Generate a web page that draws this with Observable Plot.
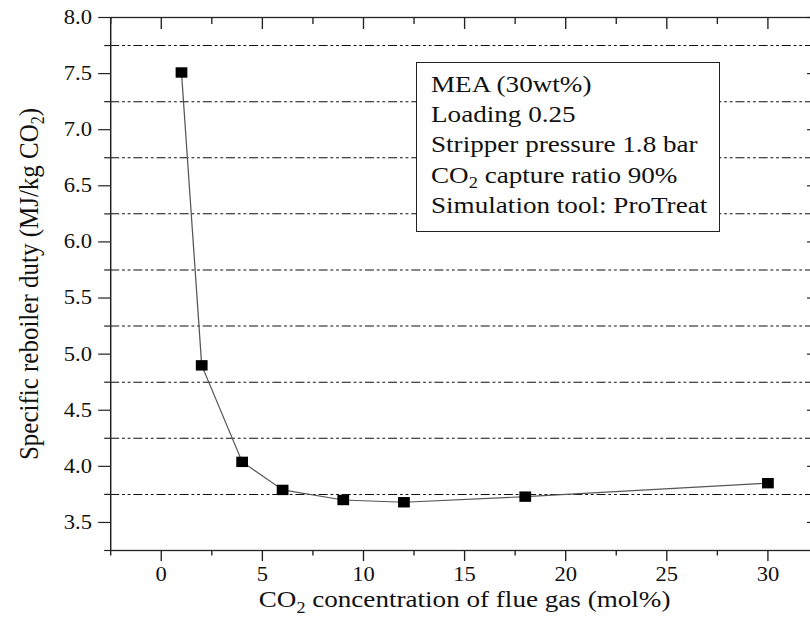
<!DOCTYPE html>
<html>
<head>
<meta charset="utf-8">
<script src="https://cdn.jsdelivr.net/npm/d3@7"></script>
<script src="https://cdn.jsdelivr.net/npm/@observablehq/plot@0.6"></script>
<style>
  html, body { margin: 0; padding: 0; background: white; overflow: hidden; }
  #wrap { position: relative; width: 810px; height: 619px; overflow: hidden; }
  #legend {
    position: absolute; left: 415.7px; top: 62.3px; width: 304.3px; height: 169.4px;
    box-sizing: border-box; border: 1.4px solid #222; background: white;
    padding: 5.5px 0 0 14px; font-family: "Liberation Serif", "Times New Roman", serif; font-size: 24px;
    line-height: 30.3px; color: #111; white-space: nowrap;
  }
  #legend .inner { transform: scaleX(1.13); transform-origin: left top; }
  #legend sub { font-size: 0.68em; line-height: 0; vertical-align: -0.28em; }
</style>
</head>
<body>
<div id="wrap"></div>
<script>
// Data
const co2Conc = [1, 2, 4, 6, 9, 12, 18, 30];                          // mol%
const reboilerDuty = [7.51, 4.90, 4.04, 3.79, 3.70, 3.68, 3.73, 3.85]; // MJ/kg CO2

// Tick values
const xMajorTicks = [0, 5, 10, 15, 20, 25, 30];
const xMinorTicks = [-2.5, 2.5, 7.5, 12.5, 17.5, 22.5, 27.5, 32.5];
const yMajorTicks = [3.5, 4.0, 4.5, 5.0, 5.5, 6.0, 6.5, 7.0, 7.5, 8.0];
const yMinorTicks = [3.25, 3.75, 4.25, 4.75, 5.25, 5.75, 6.25, 6.75, 7.25, 7.75];
const yGridLines = [3.75, 4.25, 4.75, 5.25, 5.75, 6.25, 6.75, 7.25, 7.75];

const yLabel = "Specific reboiler duty (MJ/kg CO2)";
const xLabel = "CO2 concentration of flue gas (mol%)";
const legendLines = ["MEA (30wt%)", "Loading 0.25", "Stripper pressure 1.8 bar", "CO2 capture ratio 90%", "Simulation tool: ProTreat"];

const points = co2Conc.map((x, i) => ({x, y: reboilerDuty[i]}));
const axisColor = "#222";
const tickOnly = {label: null, stroke: axisColor, strokeWidth: 1.2, fill: "none"};

const chart = Plot.plot({
  width: 717,
  height: 619,
  marginLeft: 97.5,
  marginRight: -7,
  marginTop: 17,
  marginBottom: 69,
  x: {domain: [-2.5, 32.5]},
  y: {domain: [3.25, 8.0]},
  style: {fontFamily: "'Liberation Serif', 'Times New Roman', serif", fontSize: "20px", color: "#111", background: "white"},
  marks: [
    Plot.ruleY(yGridLines, {stroke: "#111", strokeWidth: 1, strokeDasharray: "8,2.5,2.5,2.5,2.5,2.5"}),
    // left axis
    Plot.axisY({ticks: yMajorTicks, tickSize: 10.6, tickPadding: 6, tickFormat: d3.format(".1f"), label: null, stroke: axisColor, strokeWidth: 1.2, fontSize: 20}),
    Plot.axisY({ticks: yMinorTicks, tickSize: 5.3, ...tickOnly}),
    // right axis (inward ticks)
    Plot.axisY({anchor: "right", ticks: yMajorTicks, tickSize: -10.6, ...tickOnly}),
    Plot.axisY({anchor: "right", ticks: yMinorTicks, tickSize: -5.3, ...tickOnly}),
    // bottom axis
    Plot.axisX({ticks: xMajorTicks, tickSize: 11, tickPadding: 5, tickFormat: d3.format("d"), label: null, stroke: axisColor, strokeWidth: 1.2, fontSize: 20}),
    Plot.axisX({ticks: xMinorTicks, tickSize: 5.5, ...tickOnly}),
    // top axis (inward ticks)
    Plot.axisX({anchor: "top", ticks: xMajorTicks, tickSize: -11, ...tickOnly}),
    Plot.axisX({anchor: "top", ticks: xMinorTicks, tickSize: -6, ...tickOnly}),
    Plot.frame({stroke: axisColor, strokeWidth: 1.3}),
    Plot.line(points, {x: "x", y: "y", stroke: "#555", strokeWidth: 1.1}),
    Plot.dot(points, {x: "x", y: "y", symbol: "square", r: 5.87, fill: "black", stroke: "none"}),
    Plot.text([yLabel], {text: d => d, frameAnchor: "left", textAnchor: "middle", dx: -72.7, rotate: -90, fontSize: 25, fill: "#111"}),
    Plot.text([xLabel], {text: d => d, frameAnchor: "bottom", textAnchor: "middle", dy: 56, fontSize: 24, fill: "#111"})
  ]
});

// Stretch horizontally, as in the reference (non-uniform aspect)
chart.setAttribute("preserveAspectRatio", "none");
chart.style.width = "810px";
chart.style.height = "619px";
chart.style.maxWidth = "none";
chart.style.overflow = "hidden";

// Subscript the "2" in CO2
d3.select(chart).selectAll("text").each(function() {
  const s = this.textContent;
  if (!s.includes("CO2") || this.querySelector("tspan")) return;
  const [a, b] = s.split("CO2");
  const el = d3.select(this);
  el.text(null);
  el.append("tspan").text(a + "CO");
  el.append("tspan").attr("font-size", 16).attr("dy", 6).text("2");
  el.append("tspan").attr("dy", -6).text(b);
});

const wrap = document.getElementById("wrap");
wrap.appendChild(chart);

// Inset annotation box
const legend = document.createElement("div");
legend.id = "legend";
const inner = document.createElement("div");
inner.className = "inner";
legendLines.forEach(line => {
  const div = document.createElement("div");
  if (line.includes("CO2")) {
    const [a, b] = line.split("CO2");
    div.append(a + "CO");
    const sub = document.createElement("sub");
    sub.textContent = "2";
    div.append(sub);
    div.append(b);
  } else {
    div.textContent = line;
  }
  inner.appendChild(div);
});
legend.appendChild(inner);
wrap.appendChild(legend);
</script>
</body>
</html>
